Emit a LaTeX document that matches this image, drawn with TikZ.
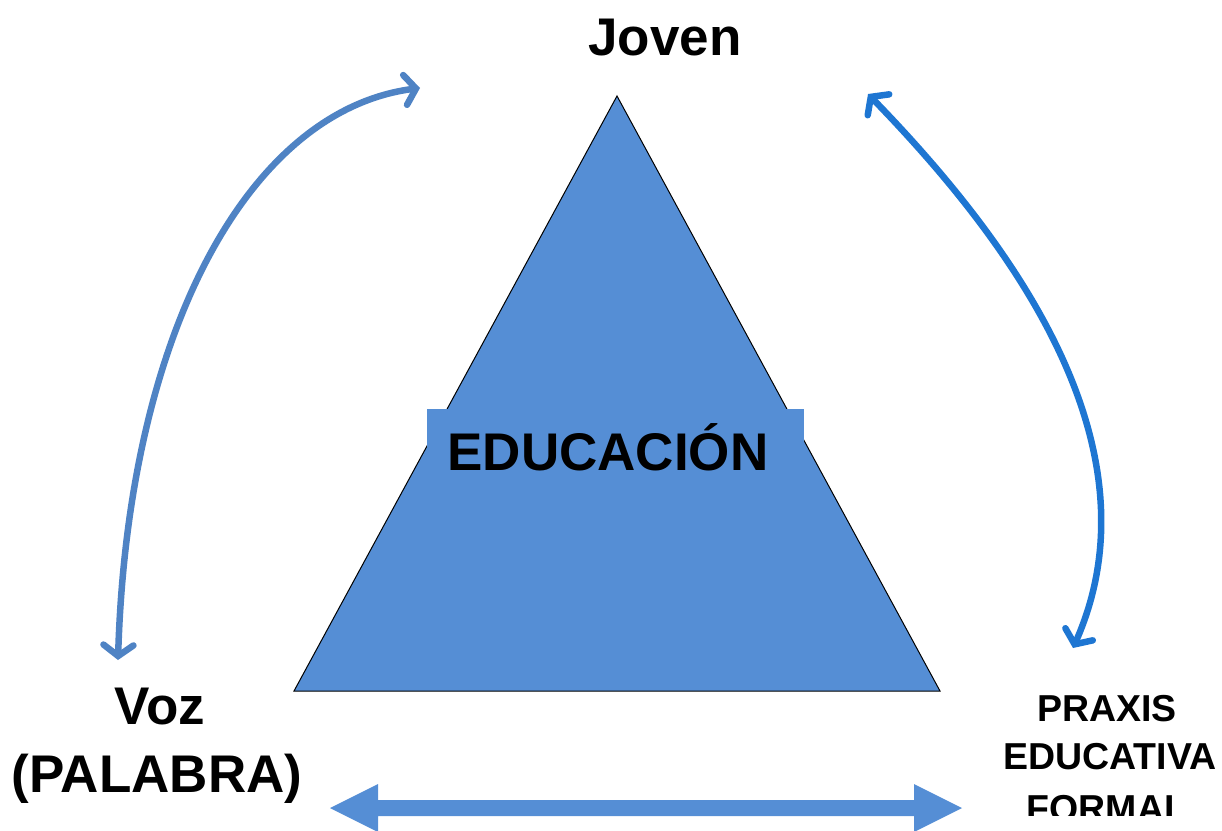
\documentclass[tikz,border=0pt]{standalone}
\usepackage{fontspec}
\setmainfont{Liberation Sans}
\usetikzlibrary{arrows.meta}
\definecolor{triblue}{RGB}{85,142,213}
\definecolor{leftblue}{RGB}{79,131,196}
\definecolor{rightblue}{RGB}{30,118,210}
\tikzset{
  bigtext/.style={font=\fontsize{53}{60}\selectfont\bfseries, inner sep=0pt},
  smalltext/.style={font=\fontsize{37.5}{49}\selectfont\bfseries, inner sep=0pt, align=center},
  curvearrow/.style={line width=6.5pt, line cap=round,
    {Straight Barb[length=11pt,width=30pt,line cap=round]}-{Straight Barb[length=11pt,width=30pt,line cap=round]}},
}
\begin{document}
\begin{tikzpicture}[x=1pt,y=-1pt]
\useasboundingbox (0,0) rectangle (1222,830);
% triangle
\coordinate (apex) at (617,96);
\coordinate (bl) at (294,691);
\coordinate (br) at (940,691);
\filldraw[fill=triblue, draw=black, line width=1pt] (apex) -- (bl) -- (br) -- cycle;
\fill[triblue] (427,409) rectangle (804,490);
\node[bigtext, anchor=base] (edu) at (608,470) {EDUCACIÓN};
% labels
\node[bigtext, anchor=base] (joven) at (665,55) {Joven};
\node[bigtext, anchor=base] (voz) at (160,724) {Voz};
\node[bigtext, anchor=base] (palabra) at (157,792) {(PALABRA)};
\begin{scope}
\clip (980,670) rectangle (1222,815);
\node[smalltext, anchor=base] (p1) at (1107,721) {PRAXIS};
\node[smalltext, anchor=base] (p2) at (1110,769) {EDUCATIVA};
\node[smalltext, anchor=base] (p3) at (1107,821) {FORMAL};
\end{scope}
% curved arrows
\coordinate (la) at (118,660);
\coordinate (lb) at (420,88);
\draw[curvearrow, leftblue] (la) .. controls (128,330) and (250,110) .. (lb);
\coordinate (ra) at (868,94);
\coordinate (rb) at (1073,648);
\draw[curvearrow, rightblue] (ra) .. controls (1000,230) and (1165,440) .. (rb);
% bottom double block arrow
\coordinate (bA) at (330,808);
\coordinate (bB) at (962,808);
\fill[triblue] (bA) -- (378,784) -- (378,800) -- (914,800) -- (914,784) -- (bB)
  -- (914,832) -- (914,816) -- (378,816) -- (378,832) -- cycle;
\end{tikzpicture}
\end{document}
